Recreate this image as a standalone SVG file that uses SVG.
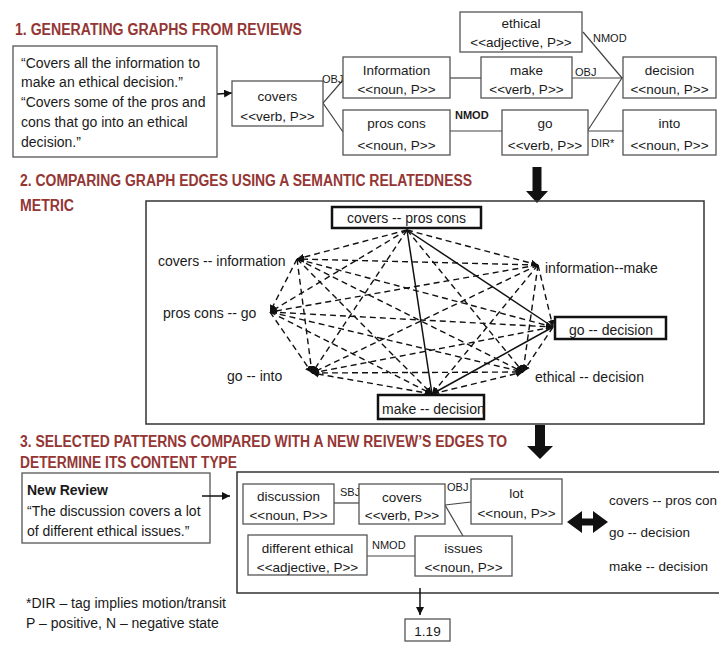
<svg xmlns="http://www.w3.org/2000/svg" width="719" height="645" viewBox="0 0 719 645">
<style>
text{font-family:"Liberation Sans",Arial,sans-serif;fill:#1a1a1a}
.title{font-weight:bold;font-size:16px;fill:#943634}
.q{font-size:14px}
.n{font-size:13.5px;text-anchor:middle}
.lab{font-size:11px}
.e2{font-size:14px}
.e3{font-size:13.5px}
.box{fill:#fff;stroke:#555;stroke-width:1.3}
.tbox{fill:#fff;stroke:#111;stroke-width:2.5}
.frame{fill:none;stroke:#333;stroke-width:1.5}
.ln{stroke:#444;stroke-width:1.2;fill:none}
.dash{stroke:#111;stroke-width:1.4;stroke-dasharray:6 4;fill:none}
.solid{stroke:#111;stroke-width:1.5;fill:none}
.blk{fill:#111}
</style>
<defs>
<marker id="ah" viewBox="0 0 10 10" refX="10" refY="5" markerWidth="7" markerHeight="7" markerUnits="userSpaceOnUse" orient="auto"><path d="M0,0 L10,5 L0,10 z" fill="#111"/></marker>
<marker id="ah2" viewBox="0 0 10 10" refX="10" refY="5" markerWidth="8" markerHeight="8" markerUnits="userSpaceOnUse" orient="auto"><path d="M0,0 L10,5 L0,10 z" fill="#111"/></marker>
</defs>
<rect width="719" height="645" fill="#fff"/>

<!-- Titles -->
<text class="title" x="15" y="35" textLength="287" lengthAdjust="spacingAndGlyphs">1. GENERATING GRAPHS FROM REVIEWS</text>
<text class="title" x="20" y="186" textLength="452" lengthAdjust="spacingAndGlyphs">2. COMPARING GRAPH EDGES USING A SEMANTIC RELATEDNESS</text>
<text class="title" x="20" y="211" textLength="54" lengthAdjust="spacingAndGlyphs">METRIC</text>
<text class="title" x="20" y="447" textLength="487" lengthAdjust="spacingAndGlyphs">3. SELECTED PATTERNS COMPARED WITH A NEW REIVEW’S EDGES TO</text>
<text class="title" x="20" y="468" textLength="217" lengthAdjust="spacingAndGlyphs">DETERMINE ITS CONTENT TYPE</text>

<!-- Section 1 connectors -->
<g id="connectors1">
<line class="solid" x1="204" y1="95" x2="232" y2="93" marker-end="url(#ah2)"/>
<polyline class="ln" points="343,80 323,103 343,132"/>
<line class="ln" x1="450" y1="78" x2="481" y2="78"/>
<line class="ln" x1="572" y1="78" x2="623" y2="78"/>
<line class="ln" x1="583" y1="32" x2="622" y2="78"/>
<line class="ln" x1="588" y1="130" x2="622" y2="78"/>
<line class="ln" x1="588" y1="131" x2="623" y2="131"/>
<line class="ln" x1="450" y1="131" x2="502" y2="131"/>
<text class="lab" x="322" y="83">OBJ</text>
<text class="lab" x="575" y="76">OBJ</text>
<text class="lab" x="593" y="42">NMOD</text>
<text class="lab" x="591" y="147">DIR*</text>
<text class="lab" x="455" y="119" font-weight="bold" font-size="12">NMOD</text>
</g>

<!-- Section 1 nodes -->
<g id="quote1">
<rect class="box" x="13" y="46" width="204" height="111" stroke="#222" stroke-width="1.6"/>
<text class="q" x="21" y="68">“Covers all the information to</text>
<text class="q" x="21" y="87">make an ethical decision.”</text>
<text class="q" x="21" y="107">“Covers some of the pros and</text>
<text class="q" x="21" y="127">cons that go into an ethical</text>
<text class="q" x="21" y="147">decision.”</text>
</g>
<g id="n-covers"><rect class="box" x="232" y="81" width="91" height="45"/><text class="n" x="277.5" y="101">covers</text><text class="n" x="277.5" y="121">&lt;&lt;verb, P&gt;&gt;</text></g>
<g id="n-ethical"><rect class="box" x="460" y="12" width="122" height="40"/><text class="n" x="521" y="28">ethical</text><text class="n" x="521" y="47">&lt;&lt;adjective, P&gt;&gt;</text></g>
<g id="n-information"><rect class="box" x="343" y="57" width="107" height="41"/><text class="n" x="396.5" y="75">Information</text><text class="n" x="396.5" y="94">&lt;&lt;noun, P&gt;&gt;</text></g>
<g id="n-make"><rect class="box" x="481" y="57" width="91" height="41"/><text class="n" x="526.5" y="75">make</text><text class="n" x="526.5" y="94">&lt;&lt;verb, P&gt;&gt;</text></g>
<g id="n-decision"><rect class="box" x="623" y="57" width="93" height="41"/><text class="n" x="669.5" y="75">decision</text><text class="n" x="669.5" y="94">&lt;&lt;noun, P&gt;&gt;</text></g>
<g id="n-proscons"><rect class="box" x="343" y="110" width="107" height="45"/><text class="n" x="396.5" y="128">pros cons</text><text class="n" x="396.5" y="150">&lt;&lt;noun, P&gt;&gt;</text></g>
<g id="n-go"><rect class="box" x="502" y="110" width="86" height="45"/><text class="n" x="545" y="128">go</text><text class="n" x="545" y="150">&lt;&lt;verb, P&gt;&gt;</text></g>
<g id="n-into"><rect class="box" x="623" y="110" width="93" height="45"/><text class="n" x="669.5" y="128">into</text><text class="n" x="669.5" y="150">&lt;&lt;noun, P&gt;&gt;</text></g>

<!-- Block arrows -->
<polygon class="blk" points="532.5,167 541.5,167 541.5,191 548,191 537,203 526,191 532.5,191"/>
<polygon class="blk" points="535,425 545,425 545,446 553,446 540,459 527,446 535,446"/>

<!-- Section 2 frame -->
<rect class="frame" x="146" y="201" width="558" height="223"/>

<!-- Section 2 connectors -->
<g id="connectors2">
<line class="dash" x1="407" y1="230" x2="538" y2="265" marker-end="url(#ah)"/>
<line class="dash" x1="407" y1="230" x2="297" y2="259" marker-end="url(#ah)"/>
<line class="dash" x1="407" y1="230" x2="270" y2="312" marker-end="url(#ah)"/>
<line class="dash" x1="407" y1="230" x2="312" y2="373" marker-end="url(#ah)"/>
<line class="dash" x1="407" y1="230" x2="523" y2="372" marker-end="url(#ah)"/>
<line class="dash" x1="538" y1="265" x2="297" y2="259" marker-end="url(#ah)"/>
<line class="dash" x1="538" y1="265" x2="553" y2="327" marker-end="url(#ah)"/>
<line class="dash" x1="538" y1="265" x2="270" y2="312" marker-end="url(#ah)"/>
<line class="dash" x1="538" y1="265" x2="432" y2="394" marker-end="url(#ah)"/>
<line class="dash" x1="538" y1="265" x2="312" y2="373" marker-end="url(#ah)"/>
<line class="dash" x1="538" y1="265" x2="523" y2="372" marker-end="url(#ah)"/>
<line class="dash" x1="297" y1="259" x2="553" y2="327" marker-end="url(#ah)"/>
<line class="dash" x1="297" y1="259" x2="270" y2="312" marker-end="url(#ah)"/>
<line class="dash" x1="297" y1="259" x2="432" y2="394" marker-end="url(#ah)"/>
<line class="dash" x1="297" y1="259" x2="312" y2="373" marker-end="url(#ah)"/>
<line class="dash" x1="297" y1="259" x2="523" y2="372" marker-end="url(#ah)"/>
<line class="dash" x1="270" y1="312" x2="553" y2="327" marker-end="url(#ah)"/>
<line class="dash" x1="553" y1="327" x2="312" y2="373" marker-end="url(#ah)"/>
<line class="dash" x1="553" y1="327" x2="523" y2="372" marker-end="url(#ah)"/>
<line class="dash" x1="270" y1="312" x2="432" y2="394" marker-end="url(#ah)"/>
<line class="dash" x1="270" y1="312" x2="312" y2="373" marker-end="url(#ah)"/>
<line class="dash" x1="270" y1="312" x2="523" y2="372" marker-end="url(#ah)"/>
<line class="dash" x1="432" y1="394" x2="312" y2="373" marker-end="url(#ah)"/>
<line class="dash" x1="432" y1="394" x2="523" y2="372" marker-end="url(#ah)"/>
<line class="dash" x1="312" y1="373" x2="523" y2="372" marker-end="url(#ah)"/>
<line class="solid" x1="407" y1="230" x2="553" y2="327"/>
<line class="solid" x1="407" y1="230" x2="432" y2="394"/>
<line class="solid" x1="553" y1="327" x2="432" y2="394" marker-end="url(#ah)"/>
</g>

<!-- Section 2 nodes -->
<g id="e-covers-proscons"><rect class="tbox" x="332" y="207" width="149" height="21"/><text class="e2" x="406.5" y="223" text-anchor="middle">covers -- pros cons</text></g>
<g id="e-covers-information"><text class="e2" x="158" y="266">covers -- information</text></g>
<g id="e-information-make"><text class="e2" x="545" y="273">information--make</text></g>
<g id="e-proscons-go"><text class="e2" x="163" y="318">pros cons -- go</text></g>
<g id="e-go-decision"><rect class="tbox" x="555" y="317" width="111" height="22"/><text class="e2" x="569" y="335">go -- decision</text></g>
<g id="e-go-into"><text class="e2" x="227" y="381">go -- into</text></g>
<g id="e-ethical-decision"><text class="e2" x="535" y="382">ethical -- decision</text></g>
<g id="e-make-decision"><rect class="tbox" x="378" y="395" width="106" height="24"/><text class="e2" x="382" y="414">make -- decision</text></g>

<!-- Section 3 -->
<rect class="frame" x="237" y="472" width="490" height="121" stroke-width="2"/>
<g id="newreview">
<rect class="box" x="22" y="473" width="188" height="70" stroke="#222" stroke-width="1.6"/>
<text class="q" x="27" y="495" font-weight="bold">New Review</text>
<text class="q" x="27" y="516">“The discussion covers a lot</text>
<text class="q" x="27" y="536">of different ethical issues.”</text>
</g>
<g id="connectors3">
<line class="solid" x1="202" y1="496" x2="230" y2="496" marker-end="url(#ah2)"/>
<line class="ln" x1="334" y1="503" x2="359" y2="503"/>
<line class="ln" x1="445" y1="505" x2="471" y2="502"/>
<line class="ln" x1="445" y1="505" x2="463" y2="536"/>
<line class="ln" x1="367" y1="556" x2="415" y2="556"/>
<line class="solid" x1="420" y1="588" x2="420" y2="615" marker-end="url(#ah2)"/>
<text class="lab" x="340" y="496">SBJ</text>
<text class="lab" x="447" y="491">OBJ</text>
<text class="lab" x="372" y="549">NMOD</text>
</g>
<g id="n3-discussion"><rect class="box" x="243" y="484" width="91" height="40"/><text class="n" x="288.5" y="501">discussion</text><text class="n" x="288.5" y="520">&lt;&lt;noun, P&gt;&gt;</text></g>
<g id="n3-covers"><rect class="box" x="359" y="484" width="86" height="40"/><text class="n" x="402" y="502">covers</text><text class="n" x="402" y="520">&lt;&lt;verb, P&gt;&gt;</text></g>
<g id="n3-lot"><rect class="box" x="471" y="479" width="91" height="45"/><text class="n" x="516.5" y="498">lot</text><text class="n" x="516.5" y="518">&lt;&lt;noun, P&gt;&gt;</text></g>
<g id="n3-different"><rect class="box" x="248" y="535" width="119" height="40"/><text class="n" x="307.5" y="553">different ethical</text><text class="n" x="307.5" y="572">&lt;&lt;adjective, P&gt;&gt;</text></g>
<g id="n3-issues"><rect class="box" x="415" y="536" width="97" height="40"/><text class="n" x="463.5" y="553">issues</text><text class="n" x="463.5" y="572">&lt;&lt;noun, P&gt;&gt;</text></g>
<polygon class="blk" points="567,522 582,511 582,518.5 593,518.5 593,511 608,522 593,533 593,525.5 582,525.5 582,533"/>
<text class="e3" x="609" y="505">covers -- pros con</text>
<text class="e3" x="609" y="537">go -- decision</text>
<text class="e3" x="609" y="571">make -- decision</text>
<g id="n3-score"><rect class="box" x="405" y="619" width="45" height="22" stroke="#222"/><text class="n" x="427.5" y="636">1.19</text></g>
<text class="q" x="26" y="608">*DIR – tag implies motion/transit</text>
<text class="q" x="26" y="628">P – positive, N – negative state</text>
</svg>
